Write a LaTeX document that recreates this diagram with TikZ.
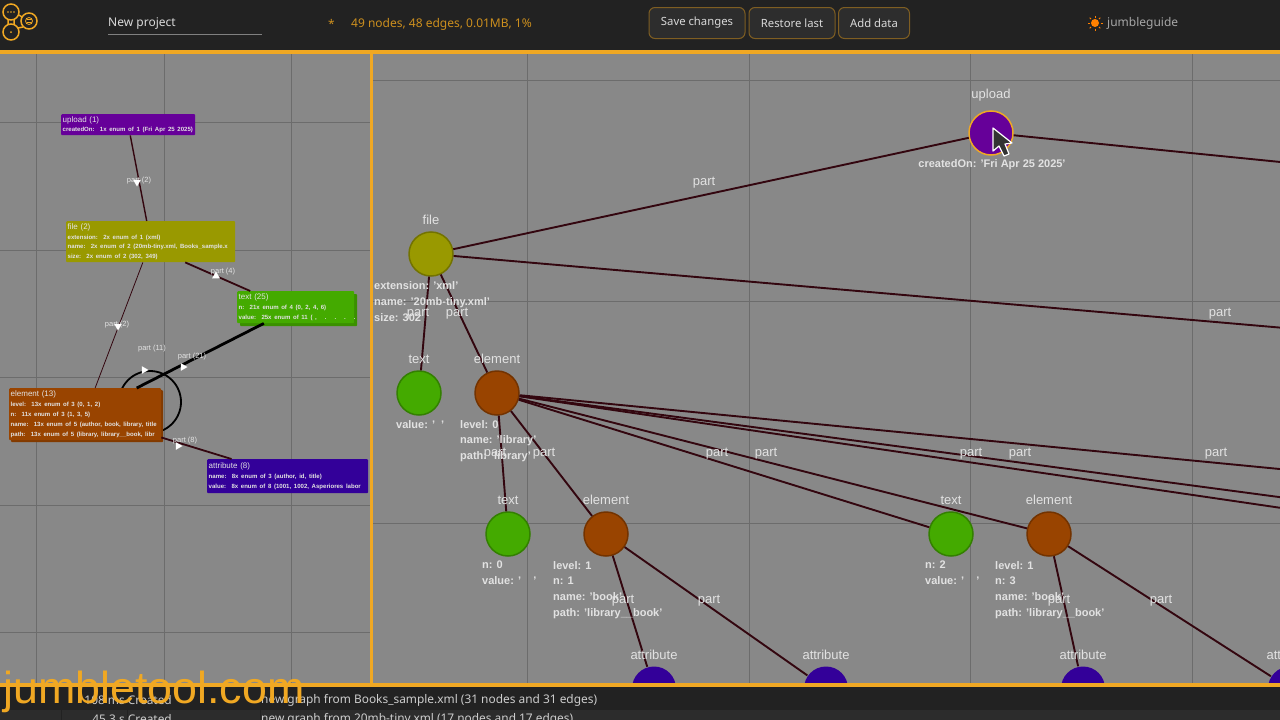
\documentclass[tikz,border=0pt]{standalone}
\usepackage{fontspec}
\setmainfont{Liberation Sans}
\newfontfamily\barfont{Noto Sans}
\usetikzlibrary{shapes.geometric,shadows,positioning}
\definecolor{panelgray}{HTML}{888888}
\definecolor{gridgray}{HTML}{6C6C6C}
\definecolor{barblack}{HTML}{222222}
\definecolor{rowblack}{HTML}{2C2C2C}
\definecolor{jumbleorange}{HTML}{F0A823}
\definecolor{edgemaroon}{HTML}{33060F}
\definecolor{labelwhite}{HTML}{E2E2E2}
\definecolor{uploadcol}{HTML}{660099}
\definecolor{filecol}{HTML}{999900}
\definecolor{textcol}{HTML}{44AA00}
\definecolor{elementcol}{HTML}{994400}
\definecolor{attributecol}{HTML}{330099}
\tikzset{
	edgeline/.style={draw=edgemaroon,line width=1.9pt},
	gridline/.style={draw=gridgray,line width=0.9pt},
	gnode/.style={circle,minimum size=44pt,inner sep=0pt,line width=1.5pt},
	glabel/.style={text=labelwhite,font=\fontsize{13}{15}\selectfont},
	partlabel/.style={text=labelwhite,font=\fontsize{13}{15}\selectfont,inner sep=0pt},
	attrs/.style={text=labelwhite,font=\fontsize{11}{15.7}\selectfont\bfseries,align=left,anchor=north west,inner sep=0pt},
	typebox/.style={anchor=north west,align=left,inner sep=1.5pt,text=labelwhite,rounded corners=1pt,font=\fontsize{8}{8.6}\selectfont},
	smallpart/.style={text=labelwhite,font=\fontsize{7.5}{9}\selectfont,inner sep=0pt},
	tipmark/.style={regular polygon,regular polygon sides=3,fill=white,minimum size=9pt,inner sep=0pt},
	barbutton/.style={draw=jumbleorange!45!barblack,fill=white!5!barblack,rounded corners=6pt,line width=1pt,text=white!85!black,font=\barfont\fontsize{11.3}{14}\selectfont,minimum height=31pt,inner sep=0pt},
	bartext/.style={font=\barfont\fontsize{12}{15}\selectfont,inner sep=0pt},
	rowtext/.style={font=\barfont\fontsize{11.9}{15}\selectfont,text=white!80!black,inner sep=0pt,anchor=west},
}
\newcommand\BoxRow[1]{\\[1.2pt]\mbox{\fontsize{6.05}{7}\selectfont\bfseries #1}}
\begin{document}
\begin{tikzpicture}[x=1pt,y=-1pt]
	\tikzset{>=stealth}
	\useasboundingbox (0,0) rectangle (1280,720);
	\fill[panelgray] (0,0) rectangle (1280,720);

	% left panel
	\begin{scope}
		\clip (0,54) rectangle (370,683);
		\foreach \x in {36,164,291} \draw[gridline] (\x,54) -- (\x,683);
		\foreach \y in {122,250,377,505,632} \draw[gridline] (0,\y) -- (370,\y);
		\coordinate (selfloop) at (150,402);
		\draw[black,line width=1.8pt] (selfloop) circle (31pt);
		\node[typebox,fill=uploadcol,text width=131pt,minimum height=21pt] (upbox) at (61,114) {upload (1)\BoxRow{createdOn:\ \ 1x enum of 1 (Fri Apr 25 2025)}};
		\node[typebox,fill=filecol,text width=166pt,minimum height=41pt] (filebox) at (66,221) {file (2)\BoxRow{extension:\ \ 2x enum of 1 (xml)}\BoxRow{name:\ \ 2x enum of 2 (20mb-tiny.xml, Books\_sample.x}\BoxRow{size:\ \ 2x enum of 2 (302, 349)}};
		\node[typebox,fill=textcol,text width=114pt,minimum height=32pt,copy shadow={fill=textcol!85!black,draw=none,shadow xshift=3pt,shadow yshift=-3pt}] (textbox) at (237,291) {text (25)\BoxRow{n:\ \ 21x enum of 4 (0, 2, 4, 6)}\BoxRow{value:\ \ 25x enum of 11 (\ ,\ \ \ .\ \ \ .\ \ \ .\ \ \ .}};
		\node[typebox,fill=elementcol,text width=149pt,minimum height=52pt,copy shadow={fill=elementcol!85!black,draw=none,shadow xshift=2pt,shadow yshift=-2pt}] (elembox) at (9,388) {element (13)\BoxRow{level:\ \ 13x enum of 3 (0, 1, 2)}\BoxRow{n:\ \ 11x enum of 3 (1, 3, 5)}\BoxRow{name:\ \ 13x enum of 5 (author, book, library, title}\BoxRow{path:\ \ 13x enum of 5 (library, library\_\_book, libr}};
		\node[typebox,fill=attributecol,text width=158pt,minimum height=34pt] (attrbox) at (207,459) {attribute (8)\BoxRow{name:\ \ 8x enum of 3 (author, id, title)}\BoxRow{value:\ \ 8x enum of 8 (1001, 1002, Asperiores labor}};
		\draw[edgemaroon,line width=1.4pt] (upbox) -- (filebox);
		\draw[edgemaroon,line width=0.8pt] (filebox) -- (elembox);
		\draw[edgemaroon,line width=1.8pt] ([xshift=34.5pt]filebox.south) -- ([xshift=-45.5pt]textbox.north);
		\draw[black,line width=2.8pt] (textbox) -- (elembox);
		\draw[edgemaroon,line width=1.8pt] (elembox) -- (attrbox);
		\foreach \n/\lab/\x/\y in {a/part (2)/139/181,b/part (4)/223/272,c/part (2)/117/325,d/part (11)/152/349,e/part (21)/192/357,f/part (8)/185/441}
			\node[smallpart] (small\n) at (\x,\y) {\lab};
		\foreach \n/\x/\y/\r in {a/137/182/180,b/216/276/0,c/118/326/-60,d/144/370/-90,e/183/367/-90,f/178/446/-90}
			\node[tipmark,rotate=\r] (tip\n) at (\x,\y) {};
	\end{scope}

	% right panel
	\begin{scope}
		\clip (372,54) rectangle (1280,683);
		\foreach \x in {527,749,970,1192} \draw[gridline] (\x,54) -- (\x,683);
		\foreach \y in {80,301,523} \draw[gridline] (372,\y) -- (1280,\y);
		\node[gnode,fill=uploadcol,draw=jumbleorange] (upload) at (991,133) {};
		\node[gnode,fill=filecol,draw=filecol!75!black] (file) at (431,254) {};
		\node[gnode,fill=textcol,draw=textcol!75!black] (text1) at (419,393) {};
		\node[gnode,fill=elementcol,draw=elementcol!75!black] (elem1) at (497,393) {};
		\node[gnode,fill=textcol,draw=textcol!75!black] (text2) at (508,534) {};
		\node[gnode,fill=elementcol,draw=elementcol!75!black] (elem2) at (606,534) {};
		\node[gnode,fill=textcol,draw=textcol!75!black] (text3) at (951,534) {};
		\node[gnode,fill=elementcol,draw=elementcol!75!black] (elem3) at (1049,534) {};
		\foreach \n/\x in {1/654,2/826,3/1083,4/1290}
			\node[gnode,fill=attributecol] (attr\n) at (\x,688.5) {};
		\coordinate (offupload) at (1570,191);
		\coordinate (offfile) at (2023,392);
		\coordinate (offelem1) at (1459,534);
		\coordinate (offelem2) at (1557,534);
		\coordinate (offelem3) at (1949,534);
		\begin{scope}[every path/.style={edgeline}]
			\path (upload) -- (offupload);
			\path (upload) -- (file);
			\path (file) -- (offfile);
			\path (file) -- (text1);
			\path (file) -- (elem1);
			\path (elem1) -- (text2);
			\path (elem1) -- (elem2);
			\path (elem1) -- (text3);
			\path (elem1) -- (elem3);
			\path (elem1) -- (offelem1);
			\path (elem1) -- (offelem2);
			\path (elem1) -- (offelem3);
			\path (elem2) -- (attr1);
			\path (elem2) -- (attr2);
			\path (elem3) -- (attr3);
			\path (elem3) -- (attr4);
		\end{scope}
		\node[glabel,above=6pt of upload] (uploadlabel) {upload};
		\foreach \n/\lab in {file/file,text1/text,elem1/element,text2/text,elem2/element,text3/text,elem3/element,attr1/attribute,attr2/attribute,attr3/attribute,attr4/attribute}
			\node[glabel,above=3pt of \n] (\n label) {\lab};
		\node[attrs,anchor=north] (upattrs) at (992,159) {createdOn: 'Fri Apr 25 2025'};
		\node[attrs] (fileattrs) at (374,281.5) {extension: 'xml'\\name: '20mb-tiny.xml'\\size: 302};
		\node[attrs] (text1attrs) at (396,420) {value: '\ \ '};
		\node[attrs] (elem1attrs) at (460,420) {level: 0\\name: 'library'\\path: 'library'};
		\node[attrs] (text2attrs) at (482,561) {n: 0\\value: '\ \ \ \ '};
		\node[attrs] (elem2attrs) at (553,561) {level: 1\\n: 1\\name: 'book'\\path: 'library\_\_book'};
		\node[attrs] (text3attrs) at (925,561) {n: 2\\value: '\ \ \ \ '};
		\node[attrs] (elem3attrs) at (995,561) {level: 1\\n: 3\\name: 'book'\\path: 'library\_\_book'};
		\foreach \n/\x/\y in {a/704/182.5,b/1220/313.5,c/418/313.5,d/457/313.5,e/495/453.5,f/544/453.5,g/717/453.5,h/766/453.5,i/971/453.5,j/1020/453.5,k/1216/453.5,l/623/600.5,m/709/600.5,n/1059/600.5,o/1161/600.5}
			\node[partlabel] (part\n) at (\x,\y) {part};
		% mouse pointer
		\filldraw[fill=black!80,draw=white,line width=1.2pt,line join=round] (993,128) -- (993,151) -- (999,146) -- (1004,156) -- (1009,154) -- (1005,144) -- (1012,143) -- cycle;
	\end{scope}

	% bars and frame
	\fill[barblack] (0,0) rectangle (1280,50);
	\fill[barblack] (0,687) rectangle (1280,710);
	\fill[rowblack] (0,710) rectangle (1280,720);
	\fill[jumbleorange] (0,50) rectangle (1280,54);
	\fill[jumbleorange] (0,683) rectangle (1280,687);
	\fill[jumbleorange] (370,54) rectangle (373,683);
	\foreach \x in {61,127,260} \draw[barblack,line width=1pt] (\x,710) -- (\x,720);

	% logo
	\foreach \x/\y in {11/12,29/21,11/32} \draw[jumbleorange,line width=1.5pt] (\x,\y) circle (8pt);
	\draw[jumbleorange,line width=1.5pt] (8,20) -- (8,24) (14,20) -- (14,24) (19,15) -- (22,17) (18,28) -- (23,27);
	\draw[jumbleorange,line width=0.8pt] (29,21) circle (3.5pt) (27,19.5) -- (31,19.5) (27,22.5) -- (31,22.5);
	\fill[jumbleorange] (11,32) circle (1pt) (8,12) circle (0.8pt) (11,12) circle (0.8pt) (14,12) circle (0.8pt);

	\node[bartext,anchor=west,text=white!85!black] (project) at (108,24) {New project};
	\coordinate (projectstart) at (108,34.5);
	\coordinate (projectend) at (262,34.5);
	\draw[white!50!black,line width=1pt] (projectstart) -- (projectend);
	\node[bartext,anchor=west,text=jumbleorange!85!black] (star) at (328,24) {*};
	\node[bartext,anchor=west,text=jumbleorange!85!black] (stats) at (351,24) {49 nodes, 48 edges, 0.01MB, 1\%};
	\node[barbutton,minimum width=96pt] (save) at (697,23) {Save changes};
	\node[barbutton,minimum width=86pt] (restore) at (792,23) {Restore last};
	\node[barbutton,minimum width=71pt] (adddata) at (874,23) {Add data};

	\fill[orange] (1095,23) circle (4pt);
	\foreach \a in {0,45,...,315} \draw[orange,line width=1pt] (1095,23) ++(\a:5.5pt) -- ++(\a:2pt);
	\node[bartext,anchor=west,text=white!65!black] (guide) at (1107,23) {jumbleguide};

	% log rows
	\node[rowtext,anchor=east] (time1) at (172,700) {108 ms Created};
	\node[rowtext] (msg1) at (261,700) {new graph from Books\_sample.xml (31 nodes and 31 edges)};
	\node[rowtext,anchor=east] (time2) at (172,719) {45.3 s Created};
	\node[rowtext] (msg2) at (261,719) {new graph from 20mb-tiny.xml (17 nodes and 17 edges)};

	\node[inner sep=0pt,anchor=base west,text=jumbleorange,font=\fontsize{44.8}{50}\selectfont] (watermark) at (3,703) {jumbletool.com};
\end{tikzpicture}
\end{document}
